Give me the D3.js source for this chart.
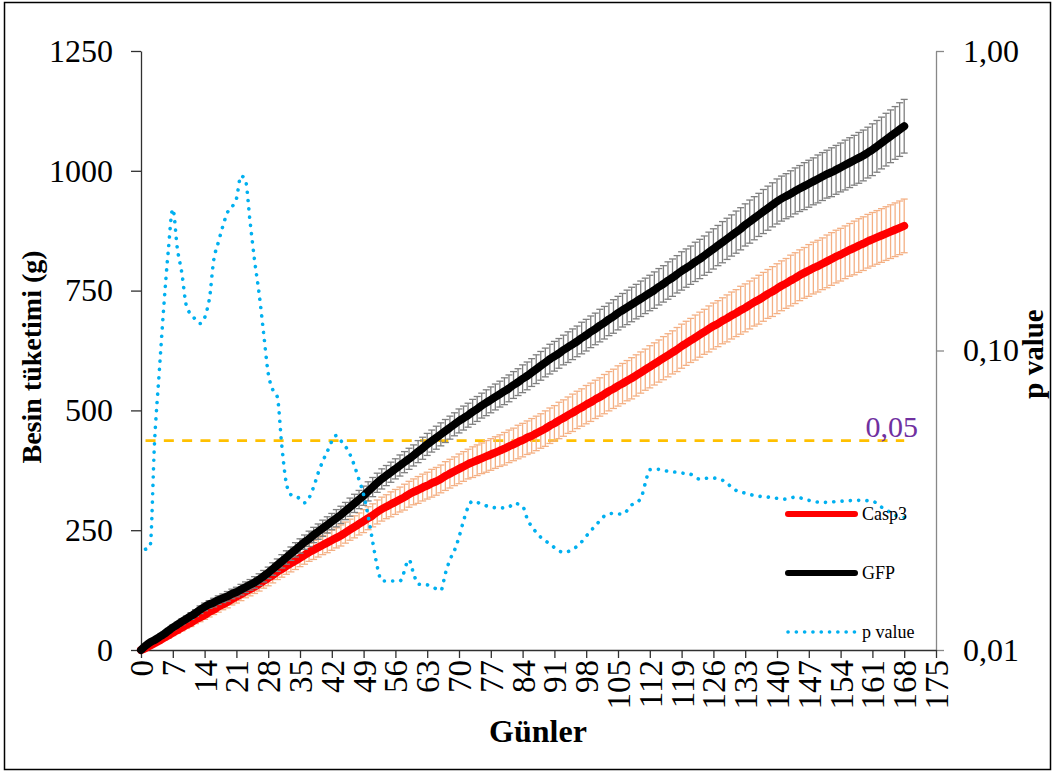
<!DOCTYPE html>
<html>
<head>
<meta charset="utf-8">
<script src="https://cdn.jsdelivr.net/npm/d3@7"></script>
<style>
  body { margin: 0; background: #fff; }
  svg { display: block; }
  text { font-family: "Liberation Serif", "Times New Roman", serif; fill: #000; }
</style>
</head>
<body>
<div id="chart"></div>
<script>
// daily cumulative food intake (g), day 0..168
var gfpMean = [0,9,16,21,27,33,40,47,53,59, 65,71,77,84,90,95,99,104,108,112,
  117,121,126,131,136,141,147,154,161,169, 177,185,193,201,209,217,225,232,240,247,
  254,261,268,275,282,290,298,306,314,322, 331,340,349,357,364,371,378,385,392,399,
  406,414,421,429,436,443,450,457,464,471, 478,484,490,497,503,510,516,522,528,534,
  540,546,553,559,566,572,579,586,593,600, 607,613,619,626,632,638,644,651,657,664,
  670,677,683,690,696,703,709,715,721,727, 733,739,745,751,758,764,771,777,784,791,
  797,803,810,816,823,830,837,844,851,858, 865,872,879,887,894,901,908,915,922,929,
  936,942,947,952,958,963,968,973,978,983, 988,993,997,1002,1007,1012,1017,1022,1027,1032,
  1038,1044,1051,1058,1065,1072,1079,1086,1093];

var gfpErr = [0,1,2,3,3,4,4, 5,5,6,6,7,7,8, 8,8,9,9,9,10,10, 10,11,11,11,12,12,12,
  12,13,13,14,14,14,15, 15,15,16,16,16,17,17, 17,18,18,18,19,19,19, 20,20,20,20,21,21,21,
  21,22,22,22,22,23,23, 23,23,24,24,24,24,24, 25,25,25,26,26,26,27, 27,27,27,28,28,28,28,
  29,29,29,30,30,30,31, 31,31,31,32,32,32,33, 33,33,33,34,34,34,35, 35,35,36,36,36,37,37,
  37,38,38,38,39,39,39, 40,40,40,41,41,41,42, 42,42,43,43,43,44,44, 44,45,45,45,46,46,46,
  47,47,47,48,48,48,49, 49,49,50,50,50,51,51, 51,52,52,52,53,53,53, 54,54,54,55,55,55,56, 56];

var casp3Mean = [0,4,9,14,19,25,30,36,41,47, 52,57,63,68,73,79,84,90,95,100,
  106,111,116,122,127,132,138,144,150,156, 163,169,175,181,186,192,198,204,209,214,
  219,224,229,234,239,245,251,257,263,269, 275,281,288,294,299,304,309,314,319,325,
  330,334,339,343,348,352,357,363,368,373, 378,383,388,392,396,400,404,408,412,416,
  420,425,429,434,438,443,447,452,457,462, 468,473,479,484,490,495,501,506,512,517,
  523,528,534,540,545,551,556,562,567,573, 579,585,591,597,603,609,615,621,627,634,
  640,646,652,658,664,670,676,681,687,692, 698,703,709,714,720,726,731,737,743,748,
  754,760,765,771,776,782,787,792,797,801, 806,811,816,821,825,830,835,839,844,848,
  853,857,861,865,869,873,877,881,885];

var casp3Err = [0,1,2,2,3,4,5, 6,6,7,7,8,8,9, 9,10,10,11,11,12,12, 13,13,13,14,14,15,15,
  16,16,16,17,17,18,18, 18,19,19,20,20,20,21, 21,21,22,22,22,23,23, 24,24,24,25,25,25,26,
  26,26,27,27,27,28,28, 28,29,29,29,30,30,30, 31,31,31,32,32,32,33, 33,33,33,34,34,34,35,
  35,35,36,36,36,37,37, 37,38,38,38,39,39,39, 40,40,40,40,41,41,41, 42,42,42,43,43,43,43,
  44,44,44,45,45,45,46, 46,46,46,47,47,47,48, 48,48,48,49,49,49,50, 50,50,50,51,51,51,52,
  52,52,52,53,53,53,53, 54,54,54,54,55,55,55, 55,55,55,56,56,56,56, 56,56,56,56,56,56,56, 56];

// p value (right axis, log)
var pDays = [1,2,3,4,5,6,7,8,9,10,12,13,15,16,17,19,21,22,23,24,25,26,27,28,29,30,31,32,33,35,36,38,39,41,43,44,46,48,49,
  50,51,52,53,55,57,59,60,61,63,65,66,67,68,69,70,71,72,73,75,77,79,81,82,84,85,87,90,93,96,99,
  101,102,104,106,108,110,111,112,114,116,118,120,121,123,125,126,128,130,131,133,135,138,142,144,147,150,154,158,161,163,165,166,168];
var pValues = [0.0217,0.0222,0.050,0.084,0.139,0.215,0.297,0.219,0.181,0.141,0.127,0.123,0.147,0.200,0.229,0.288,0.321,0.383,0.370,0.270,
  0.200,0.155,0.114,0.084,0.074,0.070,0.048,0.036,0.033,0.032,0.031,0.035,0.039,0.046,0.052,0.050,0.045,0.037,0.033,
  0.028,0.023,0.019,0.017,0.017,0.017,0.020,0.018,0.0166,0.0165,0.016,0.0158,0.018,0.020,0.0215,0.0238,0.027,0.030,0.0314,0.0307,0.030,
  0.0298,0.030,0.0309,0.0302,0.0275,0.0247,0.0226,0.0212,0.0222,0.025,
  0.027,0.028,0.0286,0.0284,0.0305,0.032,0.036,0.040,0.0401,0.0395,0.0392,0.0388,0.0386,0.0372,0.0375,0.0375,0.0369,0.035,0.0341,0.0334,
  0.0328,0.0324,0.0319,0.0324,0.0316,0.0311,0.0314,0.0316,0.0314,0.030,0.0288,0.0282,0.0277];
var pThreshold = 0.05;

var xTicks = d3.range(0, 176, 7);
var yTicks = [0, 250, 500, 750, 1000, 1250];
var pTicks = [0.01, 0.1, 1];

var svg = d3.select("#chart").append("svg")
    .attr("width", 1056)
    .attr("height", 773);

// outer frame
svg.append("rect")
    .attr("x", 4.5).attr("y", 2.5)
    .attr("width", 1046).attr("height", 767)
    .attr("fill", "none").attr("stroke", "#000").attr("stroke-width", 1.5);

var x = d3.scaleLinear().domain([0, 175]).range([141, 936]);
var y = d3.scaleLinear().domain([0, 1250]).range([650, 51]);
var yp = d3.scaleLog().domain([0.01, 1]).range([650, 51]);

function days(arr) { return arr.map(function(v, i) { return {d: i, v: v}; }); }

// axes
var leftAxis = svg.append("g")
    .attr("transform", "translate(141,0)")
    .call(d3.axisLeft(y).tickValues(yTicks).tickSize(10).tickSizeOuter(0).tickPadding(18)
        .tickFormat(d3.format("d")));
leftAxis.selectAll("text").attr("font-size", "32px").attr("font-family", "Liberation Serif");
leftAxis.selectAll("path, line").attr("stroke", "#303030").attr("stroke-width", 1.3);

var rightAxis = svg.append("g")
    .attr("transform", "translate(936,0)")
    .call(d3.axisRight(yp).tickValues(pTicks).tickSize(8).tickSizeOuter(0).tickPadding(19)
        .tickFormat(function(d) { return d3.format(".2f")(d).replace(".", ","); }));
rightAxis.selectAll("text").attr("font-size", "32px").attr("font-family", "Liberation Serif");
rightAxis.selectAll("path, line").attr("stroke", "#888").attr("stroke-width", 1.3);

var bottomAxis = svg.append("g")
    .attr("transform", "translate(0,650)")
    .call(d3.axisBottom(x).tickValues(xTicks).tickSize(8).tickSizeOuter(0));
bottomAxis.selectAll("path, line").attr("stroke", "#303030").attr("stroke-width", 1.3);
bottomAxis.selectAll("text")
    .attr("font-size", "33px").attr("font-family", "Liberation Serif")
    .attr("x", 0).attr("y", 0).attr("dy", "0.35em")
    .attr("text-anchor", "end")
    .attr("transform", "translate(0,10) rotate(-90)");

// axis titles
svg.append("text")
    .attr("transform", "translate(41,357) rotate(-90)")
    .attr("text-anchor", "middle")
    .attr("font-size", "28px").attr("font-weight", "bold")
    .text("Besin tüketimi (g)");
svg.append("text")
    .attr("x", 538).attr("y", 742)
    .attr("text-anchor", "middle")
    .attr("font-size", "32px").attr("font-weight", "bold")
    .text("Günler");
svg.append("text")
    .attr("transform", "translate(1043,354) rotate(-90)")
    .attr("text-anchor", "middle")
    .attr("font-size", "29px").attr("font-weight", "bold")
    .text("p value");

// 0,05 threshold
svg.append("line")
    .attr("x1", x(pDays[0])).attr("x2", x(pDays[pDays.length - 1]))
    .attr("y1", yp(pThreshold)).attr("y2", yp(pThreshold))
    .attr("stroke", "#ffc000").attr("stroke-width", 2.7)
    .attr("stroke-dasharray", "10,8.3");
svg.append("text")
    .attr("x", 918).attr("y", yp(pThreshold) - 4)
    .attr("text-anchor", "end")
    .attr("font-size", "30px").style("fill", "#7030a0")
    .text("0,05");

function errorBars(mean, err, color) {
    var g = svg.append("g").attr("stroke", color).attr("stroke-width", 1.3);
    var data = mean.map(function(v, i) { return {d: i, v: v, e: err[i]}; });
    g.selectAll("line.v").data(data).enter().append("line")
        .attr("x1", function(d) { return x(d.d); }).attr("x2", function(d) { return x(d.d); })
        .attr("y1", function(d) { return y(d.v - d.e); }).attr("y2", function(d) { return y(d.v + d.e); });
    g.selectAll("line.t").data(data).enter().append("line")
        .attr("x1", function(d) { return x(d.d) - 3.5; }).attr("x2", function(d) { return x(d.d) + 3.5; })
        .attr("y1", function(d) { return y(d.v + d.e); }).attr("y2", function(d) { return y(d.v + d.e); });
    g.selectAll("line.b").data(data).enter().append("line")
        .attr("x1", function(d) { return x(d.d) - 3.5; }).attr("x2", function(d) { return x(d.d) + 3.5; })
        .attr("y1", function(d) { return y(d.v - d.e); }).attr("y2", function(d) { return y(d.v - d.e); });
}

var line = d3.line()
    .x(function(d) { return x(d.d); })
    .y(function(d) { return y(d.v); })
    .curve(d3.curveMonotoneX);

errorBars(casp3Mean, casp3Err, "#f4b084");
svg.append("path").datum(days(casp3Mean))
    .attr("d", line).attr("fill", "none")
    .attr("stroke", "#ff0000").attr("stroke-width", 8)
    .attr("stroke-linecap", "round").attr("stroke-linejoin", "round");

errorBars(gfpMean, gfpErr, "#7f7f7f");
svg.append("path").datum(days(gfpMean))
    .attr("d", line).attr("fill", "none")
    .attr("stroke", "#000").attr("stroke-width", 8)
    .attr("stroke-linecap", "round").attr("stroke-linejoin", "round");

var pLine = d3.line()
    .x(function(d) { return x(d.d); })
    .y(function(d) { return yp(d.p); })
    .curve(d3.curveMonotoneX);
svg.append("path")
    .datum(pDays.map(function(d, i) { return {d: d, p: pValues[i]}; }))
    .attr("d", pLine).attr("fill", "none")
    .attr("stroke", "#00b0f0").attr("stroke-width", 3.6)
    .attr("stroke-linecap", "round")
    .attr("stroke-dasharray", "0.1,8.2");

// legend
var legend = [
    {name: "Casp3", color: "#ff0000", dash: null, w: 6, y: 514},
    {name: "GFP", color: "#000", dash: null, w: 6, y: 573},
    {name: "p value", color: "#00b0f0", dash: "0.1,8.2", w: 3.6, y: 632}
];
var lg = svg.selectAll("g.legend").data(legend).enter().append("g").attr("class", "legend");
lg.append("line")
    .attr("x1", 788).attr("x2", 855)
    .attr("y1", function(d) { return d.y; }).attr("y2", function(d) { return d.y; })
    .attr("stroke", function(d) { return d.color; })
    .attr("stroke-width", function(d) { return d.w; })
    .attr("stroke-linecap", "round")
    .attr("stroke-dasharray", function(d) { return d.dash; });
lg.append("text")
    .attr("x", 862).attr("y", function(d) { return d.y + 6; })
    .attr("font-size", "18px")
    .text(function(d) { return d.name; });
</script>
</body>
</html>
